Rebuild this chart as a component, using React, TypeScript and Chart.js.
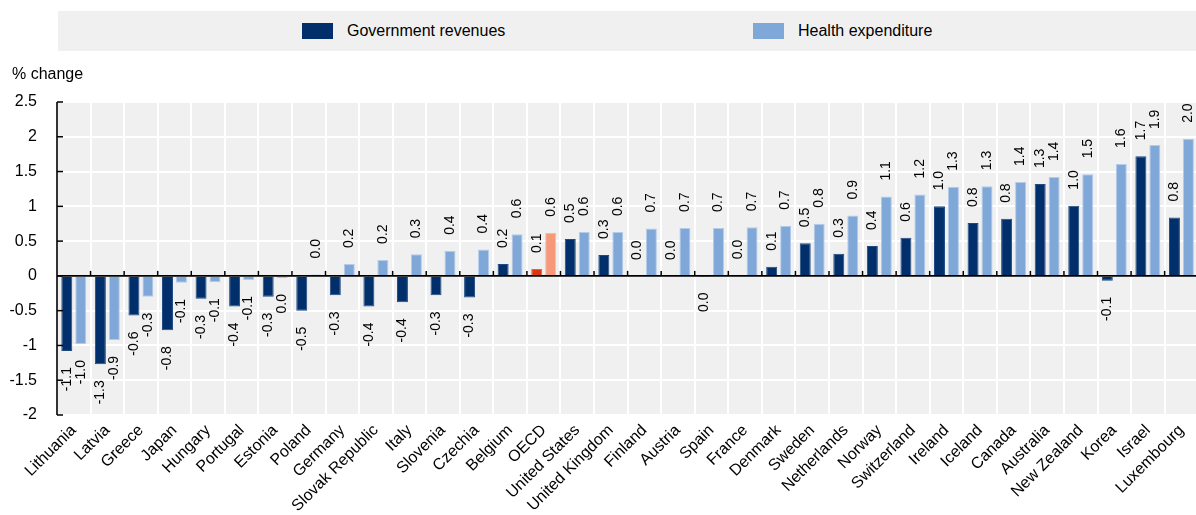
import React, { useEffect, useRef } from "react";
import { Chart, registerables } from "chart.js";

Chart.register(...registerables);

const countries = [
  "Lithuania", "Latvia", "Greece", "Japan", "Hungary", "Portugal", "Estonia", "Poland",
  "Germany", "Slovak Republic", "Italy", "Slovenia", "Czechia", "Belgium", "OECD",
  "United States", "United Kingdom", "Finland", "Austria", "Spain", "France", "Denmark",
  "Sweden", "Netherlands", "Norway", "Switzerland", "Ireland", "Iceland", "Canada",
  "Australia", "New Zealand", "Korea", "Israel", "Luxembourg",
];

const govRevenues = [
  -1.08, -1.27, -0.57, -0.78, -0.33, -0.44, -0.3, -0.5,
  -0.28, -0.44, -0.38, -0.28, -0.31, 0.17, 0.1,
  0.53, 0.3, 0.0, 0.0, -0.01, 0.01, 0.13,
  0.47, 0.32, 0.43, 0.55, 1.0, 0.76, 0.82,
  1.32, 1.01, -0.07, 1.72, 0.84,
];

const healthExpenditure = [
  -0.98, -0.92, -0.3, -0.1, -0.09, -0.06, -0.03, 0.02,
  0.17, 0.23, 0.31, 0.36, 0.38, 0.6, 0.62,
  0.63, 0.63, 0.68, 0.69, 0.69, 0.7, 0.72,
  0.75, 0.87, 1.14, 1.17, 1.28, 1.29, 1.35,
  1.42, 1.46, 1.61, 1.88, 1.97,
];

const yMin = -2;
const yMax = 2.5;
const yStep = 0.5;

const highlightCategory = "OECD";

const NAVY = "#002F6C";
const NAVY_BORDER = "#1F4A80";
const LIGHT = "#7FA8D9";
const LIGHT_BORDER = "#B4CBEA";
const RED = "#DC3511";
const RED_BORDER = "#E8603F";
const SALMON = "#F5997A";
const SALMON_BORDER = "#F8B8A2";
const FONT = 'Arial, "Liberation Sans", sans-serif';

const decorPlugin = {
  id: "decor",
  beforeDraw(chart: any) {
    const { ctx, chartArea: a } = chart;
    ctx.save();
    ctx.fillStyle = "#F0F0F0";
    ctx.fillRect(a.left, a.top, a.right - a.left, a.bottom - a.top);
    ctx.restore();
  },
  afterDatasetsDraw(chart: any) {
    const { ctx, chartArea: a, scales } = chart;
    const y0 = scales.y.getPixelForValue(0);
    const n = countries.length;
    const cw = (a.right - a.left) / n;
    ctx.save();
    ctx.strokeStyle = "#000";
    // zero line
    ctx.lineWidth = 1.6;
    ctx.beginPath();
    ctx.moveTo(a.left, y0);
    ctx.lineTo(a.right, y0);
    ctx.stroke();
    // category ticks on zero line
    ctx.lineWidth = 1.5;
    for (let i = 1; i <= n; i++) {
      const x = a.left + i * cw;
      ctx.beginPath();
      ctx.moveTo(x, y0);
      ctx.lineTo(x, y0 - 5);
      ctx.stroke();
    }
    // y axis line
    ctx.lineWidth = 1.6;
    ctx.beginPath();
    ctx.moveTo(a.left, a.top);
    ctx.lineTo(a.left, a.bottom);
    ctx.stroke();
    // y ticks (inside)
    ctx.lineWidth = 1.5;
    for (let v = yMin; v <= yMax + 1e-9; v += yStep) {
      const y = scales.y.getPixelForValue(v);
      ctx.beginPath();
      ctx.moveTo(a.left, y);
      ctx.lineTo(a.left + 6, y);
      ctx.stroke();
    }
    // data labels
    ctx.fillStyle = "#000";
    ctx.font = `14px ${FONT}`;
    ctx.textBaseline = "middle";
    chart.data.datasets.forEach((ds: any, di: number) => {
      const meta = chart.getDatasetMeta(di);
      meta.data.forEach((bar: any, i: number) => {
        const v = ds.data[i] as number;
        const label = (Math.round(v * 10) / 10).toFixed(1);
        const pos = v >= 0;
        ctx.save();
        ctx.translate(bar.x, pos ? bar.y - 16 : bar.y + 16);
        ctx.rotate(-Math.PI / 2);
        ctx.textAlign = pos ? "left" : "right";
        ctx.fillText(label, 0, 0);
        ctx.restore();
      });
    });
    ctx.restore();
  },
};

export default function App() {
  const ref = useRef<HTMLCanvasElement | null>(null);

  useEffect(() => {
    if (!ref.current) return;
    const isHi = (c: string) => c === highlightCategory;
    const chart = new Chart(ref.current, {
      type: "bar",
      data: {
        labels: countries,
        datasets: [
          {
            label: "Government revenues",
            data: govRevenues,
            backgroundColor: countries.map((c) => (isHi(c) ? RED : NAVY)),
            borderColor: countries.map((c) => (isHi(c) ? RED_BORDER : NAVY_BORDER)),
            borderWidth: 1,
            categoryPercentage: 0.832,
            barPercentage: 0.786,
          },
          {
            label: "Health expenditure",
            data: healthExpenditure,
            backgroundColor: countries.map((c) => (isHi(c) ? SALMON : LIGHT)),
            borderColor: countries.map((c) => (isHi(c) ? SALMON_BORDER : LIGHT_BORDER)),
            borderWidth: 1,
            categoryPercentage: 0.832,
            barPercentage: 0.786,
          },
        ],
      },
      options: {
        responsive: false,
        animation: false,
        layout: { padding: { top: 102, left: 0, right: 0, bottom: 0 } },
        plugins: {
          legend: { display: false },
          tooltip: { enabled: false },
          title: { display: false },
        },
        scales: {
          x: {
            grid: { color: "#FFFFFF", lineWidth: 2, drawTicks: false, offset: true },
            border: { display: false },
            ticks: {
              autoSkip: false,
              maxRotation: 45,
              minRotation: 45,
              padding: 6,
              color: "#000",
              font: { family: FONT, size: 16 },
            },
            afterFit: (scale: any) => {
              scale.height = 100;
            },
          },
          y: {
            min: yMin,
            max: yMax,
            grid: { color: "#FFFFFF", lineWidth: 2, drawTicks: false },
            border: { display: false },
            ticks: {
              stepSize: yStep,
              padding: 20,
              color: "#000",
              font: { family: FONT, size: 16 },
              callback: (v: any) => String(Number(v)),
            },
            afterFit: (scale: any) => {
              scale.width = 57;
            },
          },
        },
      },
      plugins: [decorPlugin],
    });
    return () => chart.destroy();
  }, []);

  return (
    <div
      style={{
        position: "absolute",
        left: 0,
        top: 0,
        width: 1196,
        height: 515,
        overflow: "hidden",
        background: "#FFFFFF",
        fontFamily: FONT,
        color: "#000",
      }}
    >
      <canvas
        ref={ref}
        width={1201}
        height={515}
        style={{ position: "absolute", left: 0, top: 0, width: 1201, height: 515 }}
      />
      <div style={{ position: "absolute", left: 58, top: 11, width: 1138, height: 40, background: "#F0F0F0" }} />
      <div style={{ position: "absolute", left: 302, top: 23, width: 31, height: 16, background: NAVY }} />
      <div style={{ position: "absolute", left: 347, top: 22, fontSize: 16, lineHeight: "18px", whiteSpace: "nowrap" }}>
        Government revenues
      </div>
      <div style={{ position: "absolute", left: 753, top: 23, width: 31, height: 16, background: LIGHT }} />
      <div style={{ position: "absolute", left: 798, top: 22, fontSize: 16, lineHeight: "18px", whiteSpace: "nowrap" }}>
        Health expenditure
      </div>
      <div style={{ position: "absolute", left: 12, top: 65, fontSize: 16, lineHeight: "18px", whiteSpace: "nowrap" }}>
        % change
      </div>
    </div>
  );
}
